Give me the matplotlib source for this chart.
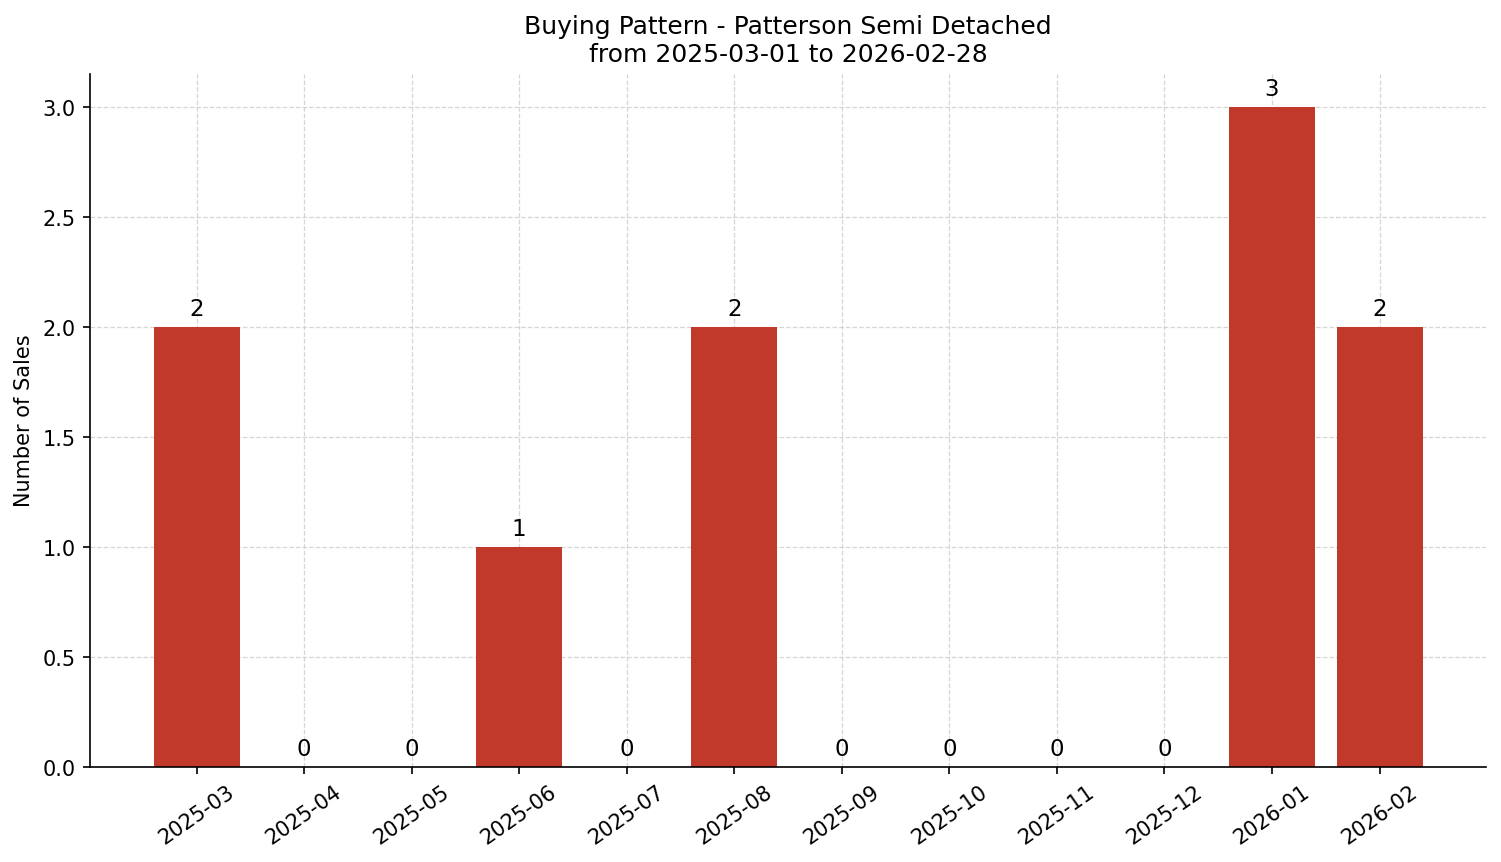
import matplotlib
matplotlib.use("Agg")
import matplotlib.pyplot as plt

# monthly sales counts
months = ["2025-03", "2025-04", "2025-05", "2025-06", "2025-07", "2025-08",
          "2025-09", "2025-10", "2025-11", "2025-12", "2026-01", "2026-02"]
sales = [2, 0, 0, 1, 0, 2, 0, 0, 0, 0, 3, 2]

fig, ax = plt.subplots(figsize=(10.007, 5.753), dpi=150)
bars = ax.bar(months, sales, color="#c0392b", width=0.8, zorder=2)

for b, v in zip(bars, sales):
    ax.annotate(str(v), (b.get_x() + b.get_width() / 2, b.get_height()),
                xytext=(0, 3), textcoords="offset points",
                ha="center", va="bottom", fontsize=11)

ax.set_title("Buying Pattern - Patterson Semi Detached\nfrom 2025-03-01 to 2026-02-28", fontsize=12)
ax.set_ylabel("Number of Sales")
ax.grid(True, linestyle="--", color="#cccccc", alpha=0.8, linewidth=0.6, zorder=0)
ax.set_axisbelow(True)
ax.spines["top"].set_visible(False)
ax.spines["right"].set_visible(False)
plt.setp(ax.get_xticklabels(), rotation=35)

fig.subplots_adjust(left=0.06, right=0.990, top=0.9135, bottom=0.1105)
fig.savefig("out.png", dpi=150)
